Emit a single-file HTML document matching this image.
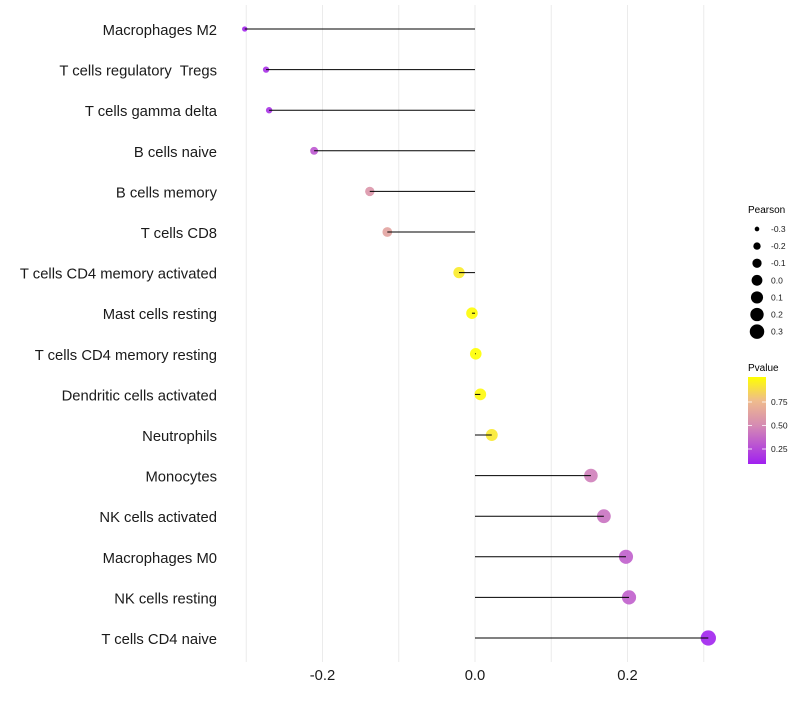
<!DOCTYPE html>
<html><head><meta charset="utf-8"><style>
body{margin:0;background:#fff;font-family:"Liberation Sans",sans-serif}
svg text{font-family:"Liberation Sans",sans-serif;white-space:pre}
</style></head><body>
<svg id="chart" width="800" height="700" xmlns="http://www.w3.org/2000/svg">
<defs><linearGradient id="pg" x1="0" y1="1" x2="0" y2="0">
<stop offset="0" stop-color="#a020f0"/><stop offset="0.45" stop-color="#d68cb2"/><stop offset="0.73" stop-color="#efbc8c"/><stop offset="1" stop-color="#ffff00"/></linearGradient></defs>
<g id="grid"></g>
<g id="marks"></g>
<g id="ylabels"></g>
<g id="xlabels"></g>
<g id="sizeleg">
<text x="748" y="213" font-size="10" fill="#000">Pearson</text>
</g>
<g>
<text x="748" y="371" font-size="10" fill="#000">Pvalue</text>
<rect x="748" y="377" width="18" height="87" fill="url(#pg)"/>
<g id="colorticks"></g>
</g>
</svg>
<script>
const categories=["Macrophages M2","T cells regulatory  Tregs","T cells gamma delta","B cells naive","B cells memory","T cells CD8","T cells CD4 memory activated","Mast cells resting","T cells CD4 memory resting","Dendritic cells activated","Neutrophils","Monocytes","NK cells activated","Macrophages M0","NK cells resting","T cells CD4 naive"];
const pearson=[-0.302,-0.274,-0.270,-0.211,-0.138,-0.115,-0.021,-0.004,0.001,0.007,0.022,0.152,0.169,0.198,0.202,0.306];
const pvalues=[0.11,0.15,0.16,0.3,0.55,0.62,0.92,0.98,0.99,0.97,0.91,0.45,0.4,0.33,0.33,0.1];
const xTicks=[-0.2,0,0.2];
const xTickLabels=["-0.2","0.0","0.2"];
const sizeLegendVals=[-0.3,-0.2,-0.1,0.0,0.1,0.2,0.3];
const sizeLegendLabels=["-0.3","-0.2","-0.1","0.0","0.1","0.2","0.3"];
const colorTicks=[0.25,0.5,0.75];
const colorTickLabels=["0.25","0.50","0.75"];

const NS="http://www.w3.org/2000/svg";
const x=v=>475+v*762.5;
const y=i=>29+i*40.6;
const r=v=>Math.sqrt(Math.max(2,27+75*v))+0.6;
const pY=p=>378.5+(1-p)*94;
function lerp(a,b,t){return a.map((c,i)=>Math.round(c+(b[i]-c)*t));}
function col(p){const s=[[0.09,[160,32,240]],[0.5,[214,140,178]],[0.75,[239,188,140]],[0.99,[255,255,0]]];
 p=Math.min(0.99,Math.max(0.09,p));
 for(let k=0;k<s.length-1;k++){if(p<=s[k+1][0]){const t=(p-s[k][0])/(s[k+1][0]-s[k][0]);return `rgb(${lerp(s[k][1],s[k+1][1],t).join(',')})`;}}
 return 'rgb(255,255,0)';}
function mk(tag,attrs,parent){const e=document.createElementNS(NS,tag);for(const k in attrs)e.setAttribute(k,attrs[k]);parent.appendChild(e);return e;}

const grid=document.getElementById('grid');
for(let v=-0.3;v<=0.31;v+=0.1){
 const g=mk('line',{x1:x(v),x2:x(v),y1:5,y2:662,stroke:'#ebebeb','stroke-width':1},grid);
 
 
}
const marks=document.getElementById('marks'),yl=document.getElementById('ylabels');
categories.forEach((c,i)=>{
 const pt=mk('circle',{cx:x(pearson[i]),cy:y(i),r:r(pearson[i]),fill:col(pvalues[i]),'fill-opacity':0.9},marks);
 
 
 const ln=mk('line',{x1:x(0),x2:x(pearson[i]),y1:y(i),y2:y(i),stroke:'#000','stroke-width':1},marks);
 
 
 const t=mk('text',{x:217,y:y(i)+6,'text-anchor':'end','font-size':14.8,fill:'#1a1a1a'},yl);
 t.textContent=c;
 
 
});
const xl=document.getElementById('xlabels');
xTicks.forEach((v,i)=>{
 const t=mk('text',{x:x(v),y:680,'text-anchor':'middle','font-size':14.8,fill:'#1a1a1a'},xl);
 t.textContent=xTickLabels[i];
 
 
});
const sl=document.getElementById('sizeleg');
sizeLegendVals.forEach((v,i)=>{
 const cy=229+i*17.1;
 const c=mk('circle',{cx:757,cy:cy,r:r(v)-0.4,fill:'#000'},sl);
 
 
 const t=mk('text',{x:771,y:cy+3,'font-size':8.5,fill:'#1a1a1a'},sl);
 t.textContent=sizeLegendLabels[i];
 
 
});
const ct=document.getElementById('colorticks');
colorTicks.forEach((p,i)=>{
 mk('line',{x1:748,x2:752,y1:pY(p),y2:pY(p),stroke:'#fff','stroke-width':0.8},ct);
 mk('line',{x1:762,x2:766,y1:pY(p),y2:pY(p),stroke:'#fff','stroke-width':0.8},ct);
 const t=mk('text',{x:771,y:pY(p)+3,'font-size':8.5,fill:'#1a1a1a'},ct);
 t.textContent=colorTickLabels[i];
 
 
});
</script>
</body></html>
